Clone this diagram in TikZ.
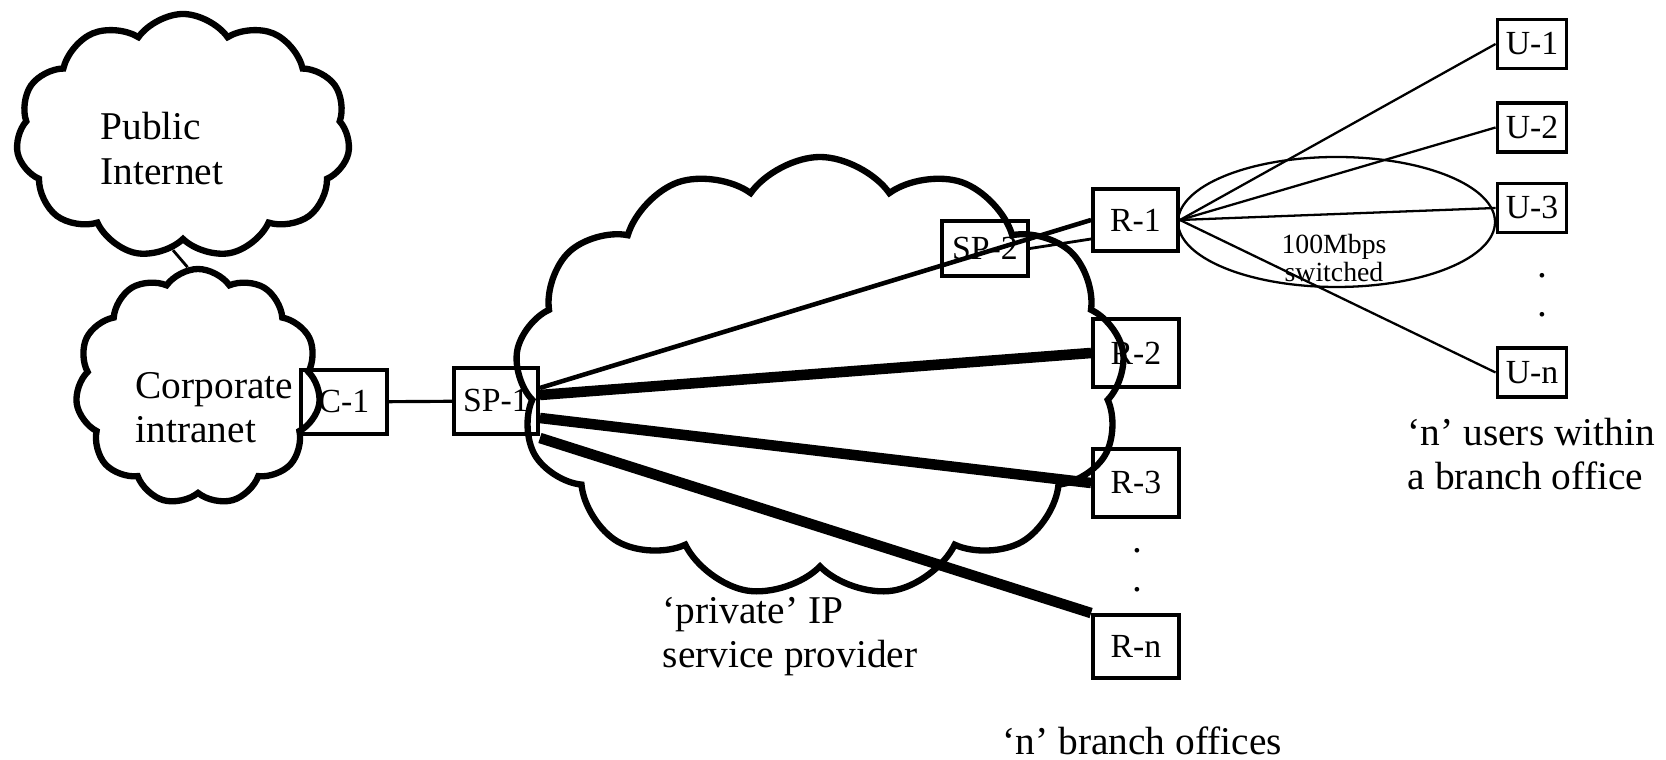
\documentclass[tikz,border=0pt]{standalone}
\usepackage{fontspec}
\setmainfont{Liberation Serif}
\usetikzlibrary{shapes.symbols}

\tikzset{
  netcloud/.style={cloud, draw, line width=1.8pt, cloud puffs=11, cloud puff arc=110, cloud ignores aspect, inner sep=0pt},
  box/.style={draw, line width=1.1pt, inner sep=0pt, font=\fontsize{9.6}{11}\selectfont, minimum width=0.86cm, minimum height=0.64cm},
  ubox/.style={box, minimum width=0.69cm, minimum height=0.49cm},
  txt/.style={align=left, anchor=base west, inner sep=0pt, font=\fontsize{11.2}{12.8}\selectfont},
  trunk/.style={line width=3pt},
  lan/.style={line width=0.65pt},
  vdots/.style={inner sep=0pt, font=\fontsize{11.2}{12.8}\selectfont}
}

\begin{document}
\begin{tikzpicture}
\useasboundingbox (0,0) rectangle (16.66,7.6);

\node[netcloud, minimum width=3.34cm, minimum height=2.44cm] (pub) at (1.83,6.24) {};
\node[netcloud, minimum width=2.45cm, minimum height=2.36cm] (corp) at (1.98,3.73) {};
\node[netcloud, minimum width=6.1cm, minimum height=4.4cm, cloud puffs=13] (isp) at (8.2,3.83) {};

\node[txt] (pubtxt) at (1.00,5.75) {Public\\Internet};
\node[txt] (corptxt) at (1.35,3.17) {Corporate\\intranet};
\node[txt] (isptxt) at (6.62,0.92) {`private' IP\\service provider};
\node[txt] (usrtxt) at (14.07,2.70) {`n' users within\\a branch office};
\node[txt] (brtxt) at (10.02,0.05) {`n' branch offices};

\node[box] (C1) at (3.44,3.58) {C-1};
\node[box, minimum width=0.84cm, minimum height=0.66cm] (SP1) at (4.96,3.59) {SP-1};
\node[box, minimum height=0.55cm] (SP2) at (9.85,5.115) {SP-2};

\node[box, minimum width=0.85cm, minimum height=0.62cm] (R1) at (11.355,5.40) {R-1};
\node[box, minimum height=0.68cm] (R2) at (11.36,4.07) {R-2};
\node[box, minimum height=0.68cm] (R3) at (11.36,2.77) {R-3};
\node[box, minimum height=0.63cm] (Rn) at (11.36,1.135) {R-n};
\node[vdots] (rdot1) at (11.37,2.09) {.};
\node[vdots] (rdot2) at (11.37,1.70) {.};

\node[ubox] (U1) at (15.32,7.16) {U-1};
\node[ubox] (U2) at (15.32,6.325) {U-2};
\node[ubox] (U3) at (15.32,5.52) {U-3};
\node[ubox] (Un) at (15.32,3.875) {U-n};
\node[vdots] (udot1) at (15.42,4.84) {.};
\node[vdots] (udot2) at (15.42,4.45) {.};

\draw[line width=0.8pt] (pub.265) -- (corp.95);
\draw[line width=0.9pt] (C1) -- (SP1);

\draw[line width=1.3pt] ([yshift=0.13cm]SP1.east) -- (R1.west);
\draw[line width=0.8pt] (SP2.east) -- ([yshift=-0.19cm]R1.west);
\draw[trunk] ([yshift=0.06cm]SP1.east) -- (R2.west);
\draw[trunk] ([yshift=-0.17cm]SP1.east) -- (R3.west);
\draw[trunk] ([yshift=-0.37cm]SP1.east) -- (Rn.north west);

\draw[lan] (13.365,5.38) ellipse (1.585 and 0.65);
\node[font=\fontsize{7.9}{8}\selectfont, align=center, inner sep=0pt] (lanrate) at (13.34,5.02) {100Mbps\\switched};
\foreach \u in {U1,U2,U3,Un}
  \draw[lan] (R1.east) -- (\u.west);
\end{tikzpicture}
\end{document}
